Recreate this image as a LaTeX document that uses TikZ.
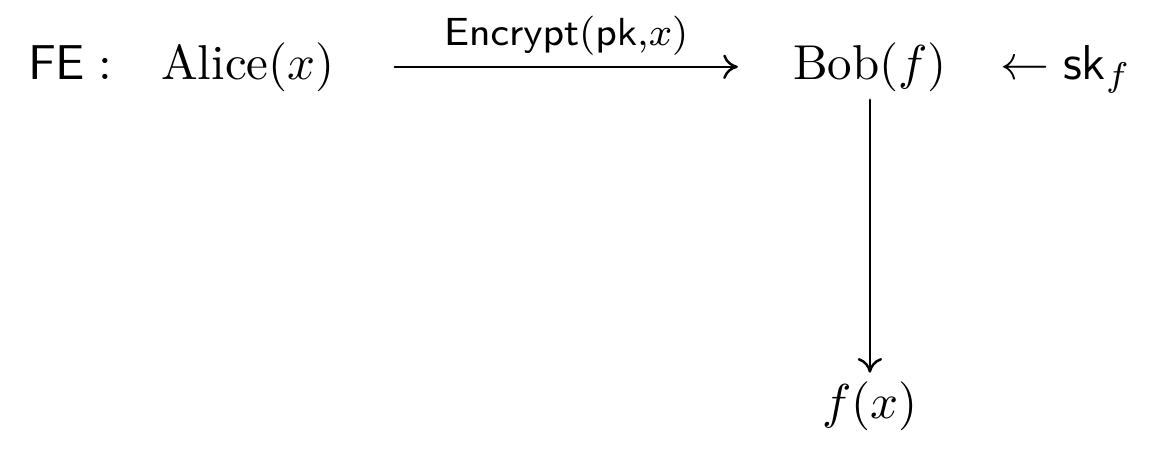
\documentclass[tikz,border=0pt]{standalone}
\usepackage{amsmath}
\usetikzlibrary{arrows.meta}
\begin{document}
\begin{tikzpicture}[line join=round, line cap=round, line width=0.5pt, inner sep=1.5pt,
		>={Computer Modern Rightarrow[length=3pt, width=5pt]},
		lbl/.style={font=\fontsize{7.6}{9}\selectfont, inner sep=2pt}]
	\useasboundingbox (0,0) rectangle (8.38,-3.243);
	\def\yrow{-0.567}  % baseline of the top row
	\def\xbob{6.241}
	\node[anchor=base west] (fe) at (0.14,\yrow) {$\mathsf{FE}:$};
	\node[anchor=base] (alice) at (1.779,\yrow) {Alice$(x)$};
	\node[anchor=base] (bob) at (\xbob,\yrow) {Bob$(f)$};
	\node[anchor=base west] (sk) at (7.117,\yrow) {$\leftarrow\mathsf{sk}_f$};
	\node[anchor=base] (fx) at (\xbob,-2.999) {$f(x)$};
	\draw[->] ([xshift=10.5pt]alice.east) -- ([xshift=-9.5pt]bob.west)
		node[lbl, midway, above] {$\mathsf{Encrypt}(\mathsf{pk}{,}x)$};
	\draw[->] (bob) -- (fx);
\end{tikzpicture}
\end{document}
